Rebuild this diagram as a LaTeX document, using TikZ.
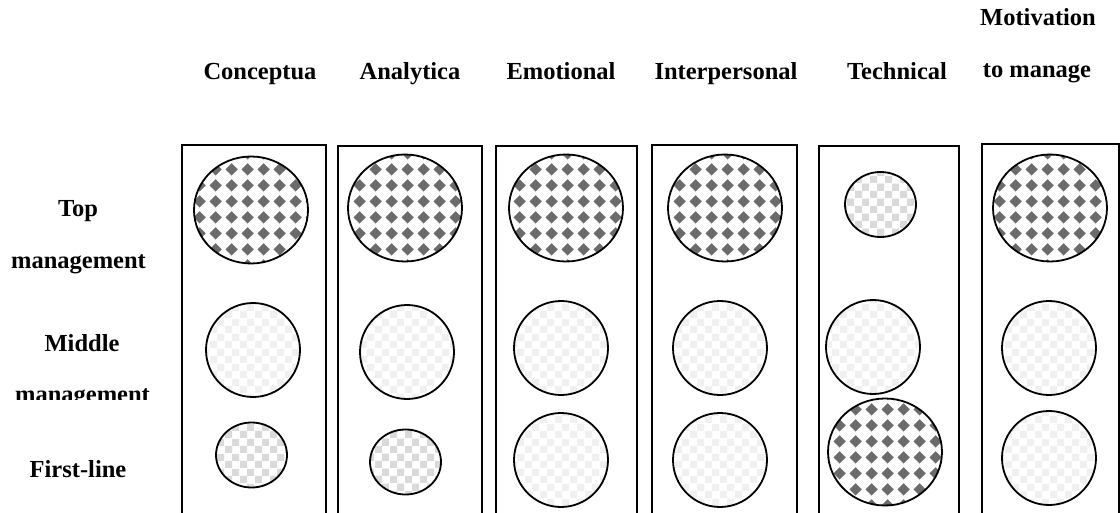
\documentclass[tikz,border=0pt]{standalone}
\usepackage{fontspec}
\setmainfont{Liberation Serif}
\usetikzlibrary{patterns}

\definecolor{darkchk}{HTML}{6B6B6B}
\definecolor{lightchk}{HTML}{DADADA}
\definecolor{faintchk}{HTML}{F0F0F0}

% diamonds for the heavy circles
\pgfdeclarepatternformonly{diamondchk}{\pgfpointorigin}{\pgfpoint{16pt}{16pt}}{\pgfpoint{16pt}{16pt}}{%
  \pgfpathmoveto{\pgfpoint{8pt}{1.5pt}}\pgfpathlineto{\pgfpoint{14.5pt}{8pt}}%
  \pgfpathlineto{\pgfpoint{8pt}{14.5pt}}\pgfpathlineto{\pgfpoint{1.5pt}{8pt}}\pgfpathclose
  \pgfusepath{fill}}

% plain checker for the light circles
\pgfdeclarepatternformonly{bigchecker}{\pgfpointorigin}{\pgfpoint{15pt}{15pt}}{\pgfpoint{15pt}{15pt}}{%
  \pgfpathrectangle{\pgfpointorigin}{\pgfpoint{7.5pt}{7.5pt}}%
  \pgfpathrectangle{\pgfpoint{7.5pt}{7.5pt}}{\pgfpoint{7.5pt}{7.5pt}}%
  \pgfusepath{fill}}

\tikzset{
  colbox/.style={line width=1.6pt},
  ring/.style={line width=1.8pt},
  heavy/.style={ring, pattern=diamondchk, pattern color=darkchk},
  light/.style={ring, pattern=bigchecker, pattern color=lightchk},
  faint/.style={ring, pattern=bigchecker, pattern color=faintchk},
  lbl/.style={font=\fontsize{24.5}{29}\selectfont\bfseries, inner sep=0pt, anchor=base}
}

\def\bigr{[x radius=57, y radius=53.5]}
\def\midr{[radius=47]}
\def\smallr{[x radius=35.5, y radius=32.5]}

\begin{document}
\begin{tikzpicture}[x=1pt, y=-1pt]
    \fill[white] (0,0) rectangle (1120,513);
    \useasboundingbox (0,0) rectangle (1120,513);

    % column headers
    \node[lbl] (hconc) at (260,80) {Conceptua};
    \node[lbl] (hanal) at (410,80) {Analytica};
    \node[lbl] (hemot) at (561,80) {Emotional};
    \node[lbl] (hinter) at (726,80) {Interpersonal};
    \node[lbl] (htech) at (897,80) {Technical};
    \node[lbl] (hmotiv) at (1038,26) {Motivation};
    \node[lbl] (hmanage) at (1037,78) {to manage};

    % row labels
    \node[lbl] (rtop) at (78,217) {Top};
    \node[lbl] (rtopb) at (78.5,269) {management};
    \node[lbl] (rmid) at (82,352) {Middle};
    \begin{scope}
      \clip (0,0) rectangle (180,399);
      \node[lbl] (rmidb) at (82.5,402) {management};
    \end{scope}
    \node[lbl] (rfirst) at (78,477) {First-line};

    % open columns
    \foreach \l/\r/\t in {182/326/145, 338/482/146, 496/637/146, 652/797/145, 819/959/146, 982/1119/144}
      \draw[colbox] (\l,513) -- (\l,\t) -- (\r,\t) -- (\r,513);

    % top management
    \draw[heavy] (251,210) ellipse \bigr;
    \draw[heavy] (405,208) ellipse \bigr;
    \draw[heavy] (566,208) ellipse \bigr;
    \draw[heavy] (725,208) ellipse \bigr;
    \draw[light] (880.5,204.5) ellipse \smallr;
    \draw[heavy] (1050,208) ellipse \bigr;

    % middle management
    \draw[faint] (253,350) circle \midr;
    \draw[faint] (407,352) circle \midr;
    \draw[faint] (561,348) circle \midr;
    \draw[faint] (720,348) circle \midr;
    \draw[faint] (873,347) circle \midr;
    \draw[faint] (1049,348) circle \midr;

    % first-line
    \draw[light] (251.5,455) ellipse \smallr;
    \draw[light] (405.5,462) ellipse \smallr;
    \draw[faint] (561,460) circle \midr;
    \draw[faint] (720,460) circle \midr;
    \draw[heavy] (885,452) ellipse \bigr;
    \draw[faint] (1049,458) circle \midr;

  \end{tikzpicture}
\end{document}
